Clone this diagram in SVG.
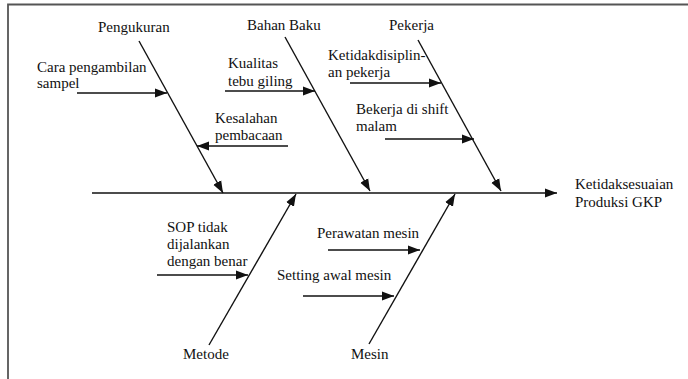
<svg xmlns="http://www.w3.org/2000/svg" width="688" height="379" viewBox="0 0 688 379">
<style>
  text { font-family: "Liberation Serif", "DejaVu Serif", serif; font-size: 15px; fill: #111; }
  .ln { stroke: #111; stroke-width: 1.4; fill: none; }
  .arr { marker-end: url(#ah); }
</style>
<defs>
  <marker id="ah" markerUnits="userSpaceOnUse" markerWidth="14" markerHeight="10" refX="12" refY="5" orient="auto">
    <path d="M0,0.5 L12,5 L0,9.5 Z" fill="#111"/>
  </marker>
</defs>
<rect width="688" height="379" fill="#fff"/>
<path d="M8,379 V4.5 H688" stroke="#555" stroke-width="1.8" fill="none"/>

<g id="connectors">
  <line class="ln arr" x1="92" y1="193" x2="557" y2="193"/>
  <line class="ln arr" x1="139" y1="41" x2="223" y2="193"/>
  <line class="ln arr" x1="285" y1="37" x2="370" y2="191"/>
  <line class="ln arr" x1="418" y1="40" x2="501" y2="191"/>
  <line class="ln arr" x1="209" y1="345" x2="296" y2="194"/>
  <line class="ln arr" x1="369" y1="344" x2="455" y2="194"/>
  <line class="ln arr" x1="77" y1="93" x2="167" y2="93"/>
  <line class="ln arr" x1="225" y1="91" x2="315" y2="91"/>
  <line class="ln arr" x1="288" y1="146" x2="197" y2="146"/>
  <line class="ln arr" x1="350" y1="83" x2="441" y2="83"/>
  <line class="ln arr" x1="385" y1="139" x2="474" y2="139"/>
  <line class="ln arr" x1="157" y1="275" x2="248" y2="275"/>
  <line class="ln arr" x1="328" y1="250" x2="420" y2="250"/>
  <line class="ln arr" x1="303" y1="296" x2="394" y2="296"/>
</g>

<g id="effect"><text x="575" y="189">Ketidaksesuaian</text><text x="575" y="207">Produksi GKP</text></g>
<g id="pengukuran"><text x="98" y="32">Pengukuran</text></g>
<g id="bahan-baku"><text x="247" y="30">Bahan Baku</text></g>
<g id="pekerja"><text x="389" y="30">Pekerja</text></g>
<g id="metode"><text x="183" y="359">Metode</text></g>
<g id="mesin"><text x="351" y="359">Mesin</text></g>

<g id="cara"><text x="37" y="72">Cara pengambilan</text><text x="37" y="88">sampel</text></g>
<g id="kualitas"><text x="228" y="68">Kualitas</text><text x="228" y="86">tebu giling</text></g>
<g id="kesalahan"><text x="215" y="123">Kesalahan</text><text x="215" y="140">pembacaan</text></g>
<g id="ketidakdisiplinan"><text x="328" y="60">Ketidakdisiplin-</text><text x="328" y="77">an pekerja</text></g>
<g id="shift"><text x="356" y="114">Bekerja di shift</text><text x="356" y="131">malam</text></g>
<g id="sop"><text x="167" y="232">SOP tidak</text><text x="167" y="249">dijalankan</text><text x="167" y="266">dengan benar</text></g>
<g id="perawatan"><text x="317" y="238">Perawatan mesin</text></g>
<g id="setting"><text x="277" y="280">Setting awal mesin</text></g>
</svg>
